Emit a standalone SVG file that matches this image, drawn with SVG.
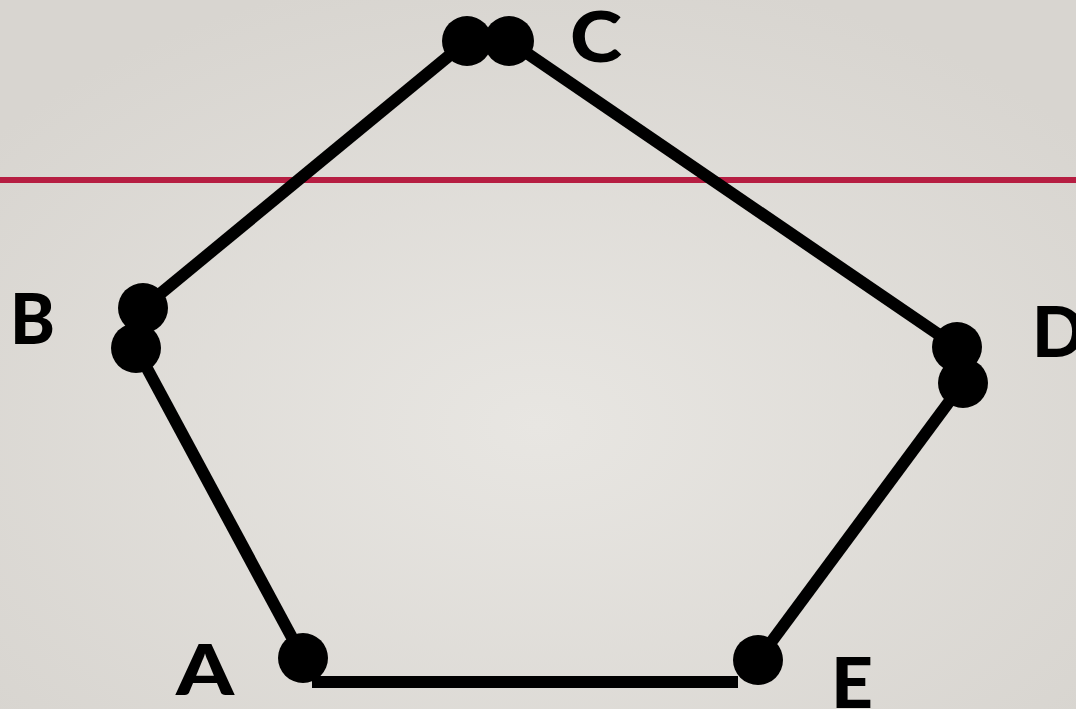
<svg xmlns="http://www.w3.org/2000/svg" width="1076" height="709" viewBox="0 0 1076 709">
<defs>
<radialGradient id="bg" cx="50%" cy="60%" r="65%">
<stop offset="0" stop-color="#e8e6e2"/>
<stop offset="1" stop-color="#d8d5d0"/>
</radialGradient>
</defs>
<style>
.edge{stroke:#000;stroke-width:12;fill:none}
.dot{fill:#000}
.lbl{font-family:Lato,"Liberation Sans",sans-serif;font-weight:900;font-size:70px;fill:#000}
</style>
<rect width="1076" height="709" fill="url(#bg)"/>
<line x1="0" y1="180" x2="1076" y2="180" stroke="#b61e42" stroke-width="6"/>
<g id="connectors">
<line class="edge" x1="467" y1="41" x2="143" y2="308"/>
<line class="edge" x1="509" y1="41" x2="957" y2="347"/>
<line class="edge" x1="136" y1="348" x2="303" y2="658"/>
<line class="edge" x1="963" y1="383" x2="758" y2="660"/>
<line class="edge" x1="312" y1="682" x2="738" y2="682"/>
</g>
<g id="C"><circle class="dot" cx="467" cy="41" r="25"/><circle class="dot" cx="509" cy="41" r="25"/><text class="lbl" x="570" y="62" textLength="52" lengthAdjust="spacingAndGlyphs">C</text></g>
<g id="B"><circle class="dot" cx="143" cy="308" r="25"/><circle class="dot" cx="136" cy="348" r="25"/><text class="lbl" x="10" y="344" textLength="45" lengthAdjust="spacingAndGlyphs">B</text></g>
<g id="D"><circle class="dot" cx="957" cy="347" r="25"/><circle class="dot" cx="963" cy="383" r="25"/><text class="lbl" x="1032" y="357">D</text></g>
<g id="A"><circle class="dot" cx="303" cy="658" r="25"/><text class="lbl" x="176" y="695" textLength="58" lengthAdjust="spacingAndGlyphs">A</text></g>
<g id="E"><circle class="dot" cx="758" cy="660" r="25"/><text class="lbl" x="831" y="708" textLength="42" lengthAdjust="spacingAndGlyphs">E</text></g>
</svg>
